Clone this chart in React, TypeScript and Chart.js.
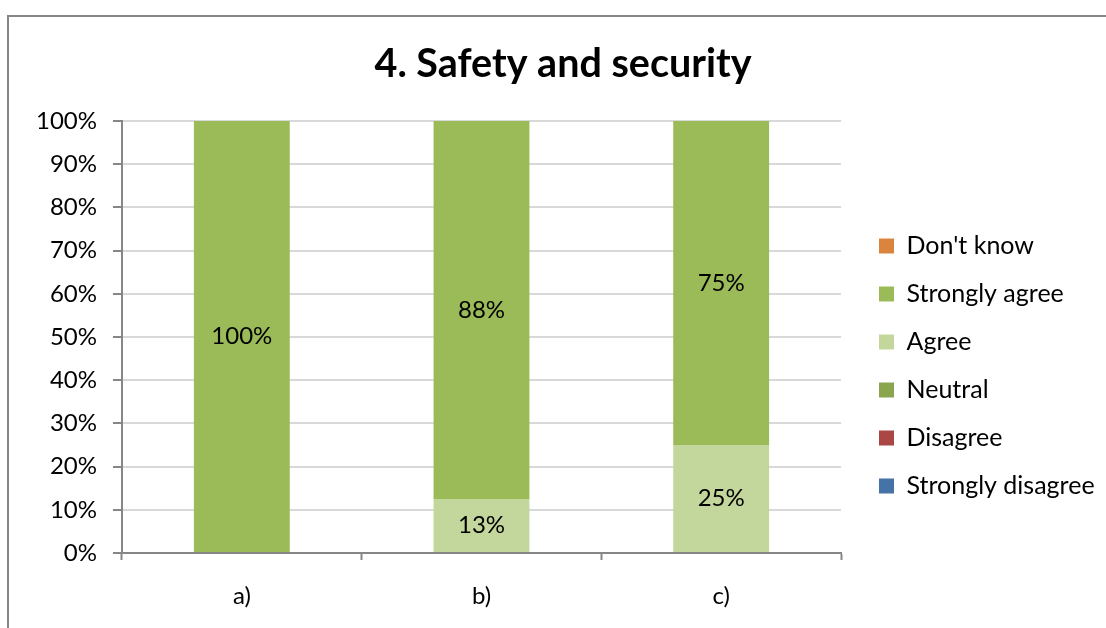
import React, { useEffect, useRef } from "react";
import { Chart, registerables } from "chart.js";

Chart.register(...registerables);

// Survey categories along the x axis
const categories = ["a)", "b)", "c)"];

// Share of answers per category, in percent (stacked bottom to top)
const stronglyDisagree = [0, 0, 0];
const disagree = [0, 0, 0];
const neutral = [0, 0, 0];
const agree = [0, 12.5, 25];
const stronglyAgree = [100, 87.5, 75];
const dontKnow = [0, 0, 0];

const seriesLabels = [
  "Strongly disagree",
  "Disagree",
  "Neutral",
  "Agree",
  "Strongly agree",
  "Don't know",
];
const seriesColors = ["#4572A7", "#AA4643", "#89A54E", "#C3D69B", "#9BBB59", "#DB843D"];
const seriesValues = [stronglyDisagree, disagree, neutral, agree, stronglyAgree, dontKnow];

const FONT = "Lato";
const AXIS_COLOR = "#868686";
const GRID_COLOR = "#D9D9D9";

// Writes the rounded percentage in the middle of every non-empty segment
const segmentLabels = {
  id: "segmentLabels",
  afterDatasetsDraw(chart: any) {
    const { ctx } = chart;
    ctx.save();
    ctx.font = `24px ${FONT}`;
    ctx.fillStyle = "#000000";
    ctx.textAlign = "center";
    ctx.textBaseline = "middle";
    chart.data.datasets.forEach((ds: any, i: number) => {
      const meta = chart.getDatasetMeta(i);
      if (meta.hidden) return;
      meta.data.forEach((el: any, j: number) => {
        const v = ds.data[j] as number;
        if (!v) return;
        const { x, y, base } = el.getProps(["x", "y", "base"], true);
        ctx.fillText(`${Math.round(v)}%`, x, (y + base) / 2);
      });
    });
    ctx.restore();
  },
};

export default function App() {
  const canvasRef = useRef<HTMLCanvasElement | null>(null);

  useEffect(() => {
    if (!canvasRef.current) return;
    document.body.style.overflow = "hidden";
    const chart = new Chart(canvasRef.current, {
      type: "bar",
      data: {
        labels: categories,
        datasets: seriesLabels.map((label, i) => ({
          label,
          data: seriesValues[i],
          backgroundColor: seriesColors[i],
          borderWidth: 0,
          barPercentage: 0.4,
          categoryPercentage: 1,
        })),
      },
      options: {
        responsive: false,
        animation: false,
        layout: { padding: { left: 16, top: 0, bottom: 0, right: 16 } },
        font: { family: FONT },
        scales: {
          x: {
            stacked: true,
            grid: {
              display: true,
              drawOnChartArea: false,
              drawTicks: true,
              tickLength: 7,
              tickColor: AXIS_COLOR,
              tickWidth: 2,
              offset: true,
            },
            border: { display: true, color: AXIS_COLOR, width: 2 },
            ticks: {
              color: "#000000",
              font: { family: FONT, size: 24 },
              padding: 22,
              maxRotation: 0,
            },
            afterFit(scale: any) {
              scale.height = 75;
            },
          },
          y: {
            stacked: true,
            min: 0,
            max: 100,
            grid: {
              color: GRID_COLOR,
              lineWidth: 2,
              tickLength: 9,
              tickColor: AXIS_COLOR,
              tickWidth: 2,
            },
            border: { display: true, color: AXIS_COLOR, width: 2 },
            ticks: {
              stepSize: 10,
              color: "#000000",
              font: { family: FONT, size: 24 },
              padding: 16,
              callback: (v: any) => `${v}%`,
            },
            afterFit(scale: any) {
              scale.width = 97;
            },
          },
          gap: {
            type: "linear",
            position: "right",
            display: true,
            grid: { display: false, drawTicks: false },
            border: { display: false },
            ticks: { display: false },
            afterFit(scale: any) {
              scale.width = 15;
            },
          },
        },
        plugins: {
          title: {
            display: true,
            text: "4. Safety and security",
            color: "#000000",
            font: { family: FONT, size: 39.5, weight: "bold", lineHeight: 1.2 },
            padding: { top: 24, bottom: 32.6 },
          },
          legend: {
            display: true,
            position: "right",
            reverse: true,
            maxWidth: 245,
            title: {
              display: true,
              text: "",
              font: { size: 12, lineHeight: 1 },
              padding: { top: 75, bottom: 0 },
            },
            labels: {
              boxWidth: 15,
              boxHeight: 15,
              padding: 23,
              color: "#000000",
              font: { family: FONT, size: 25 },
            },
          },
          tooltip: { enabled: false },
        },
      } as any,
      plugins: [segmentLabels],
    });
    return () => chart.destroy();
  }, []);

  return (
    <div
      style={{
        position: "fixed",
        left: 7,
        top: 15,
        width: 1140,
        height: 640,
        borderTop: `2px solid ${AXIS_COLOR}`,
        borderLeft: `2px solid ${AXIS_COLOR}`,
        background: "#ffffff",
        overflow: "hidden",
      }}
    >
      <canvas ref={canvasRef} width={1108} height={611} style={{ display: "block" }} />
    </div>
  );
}
